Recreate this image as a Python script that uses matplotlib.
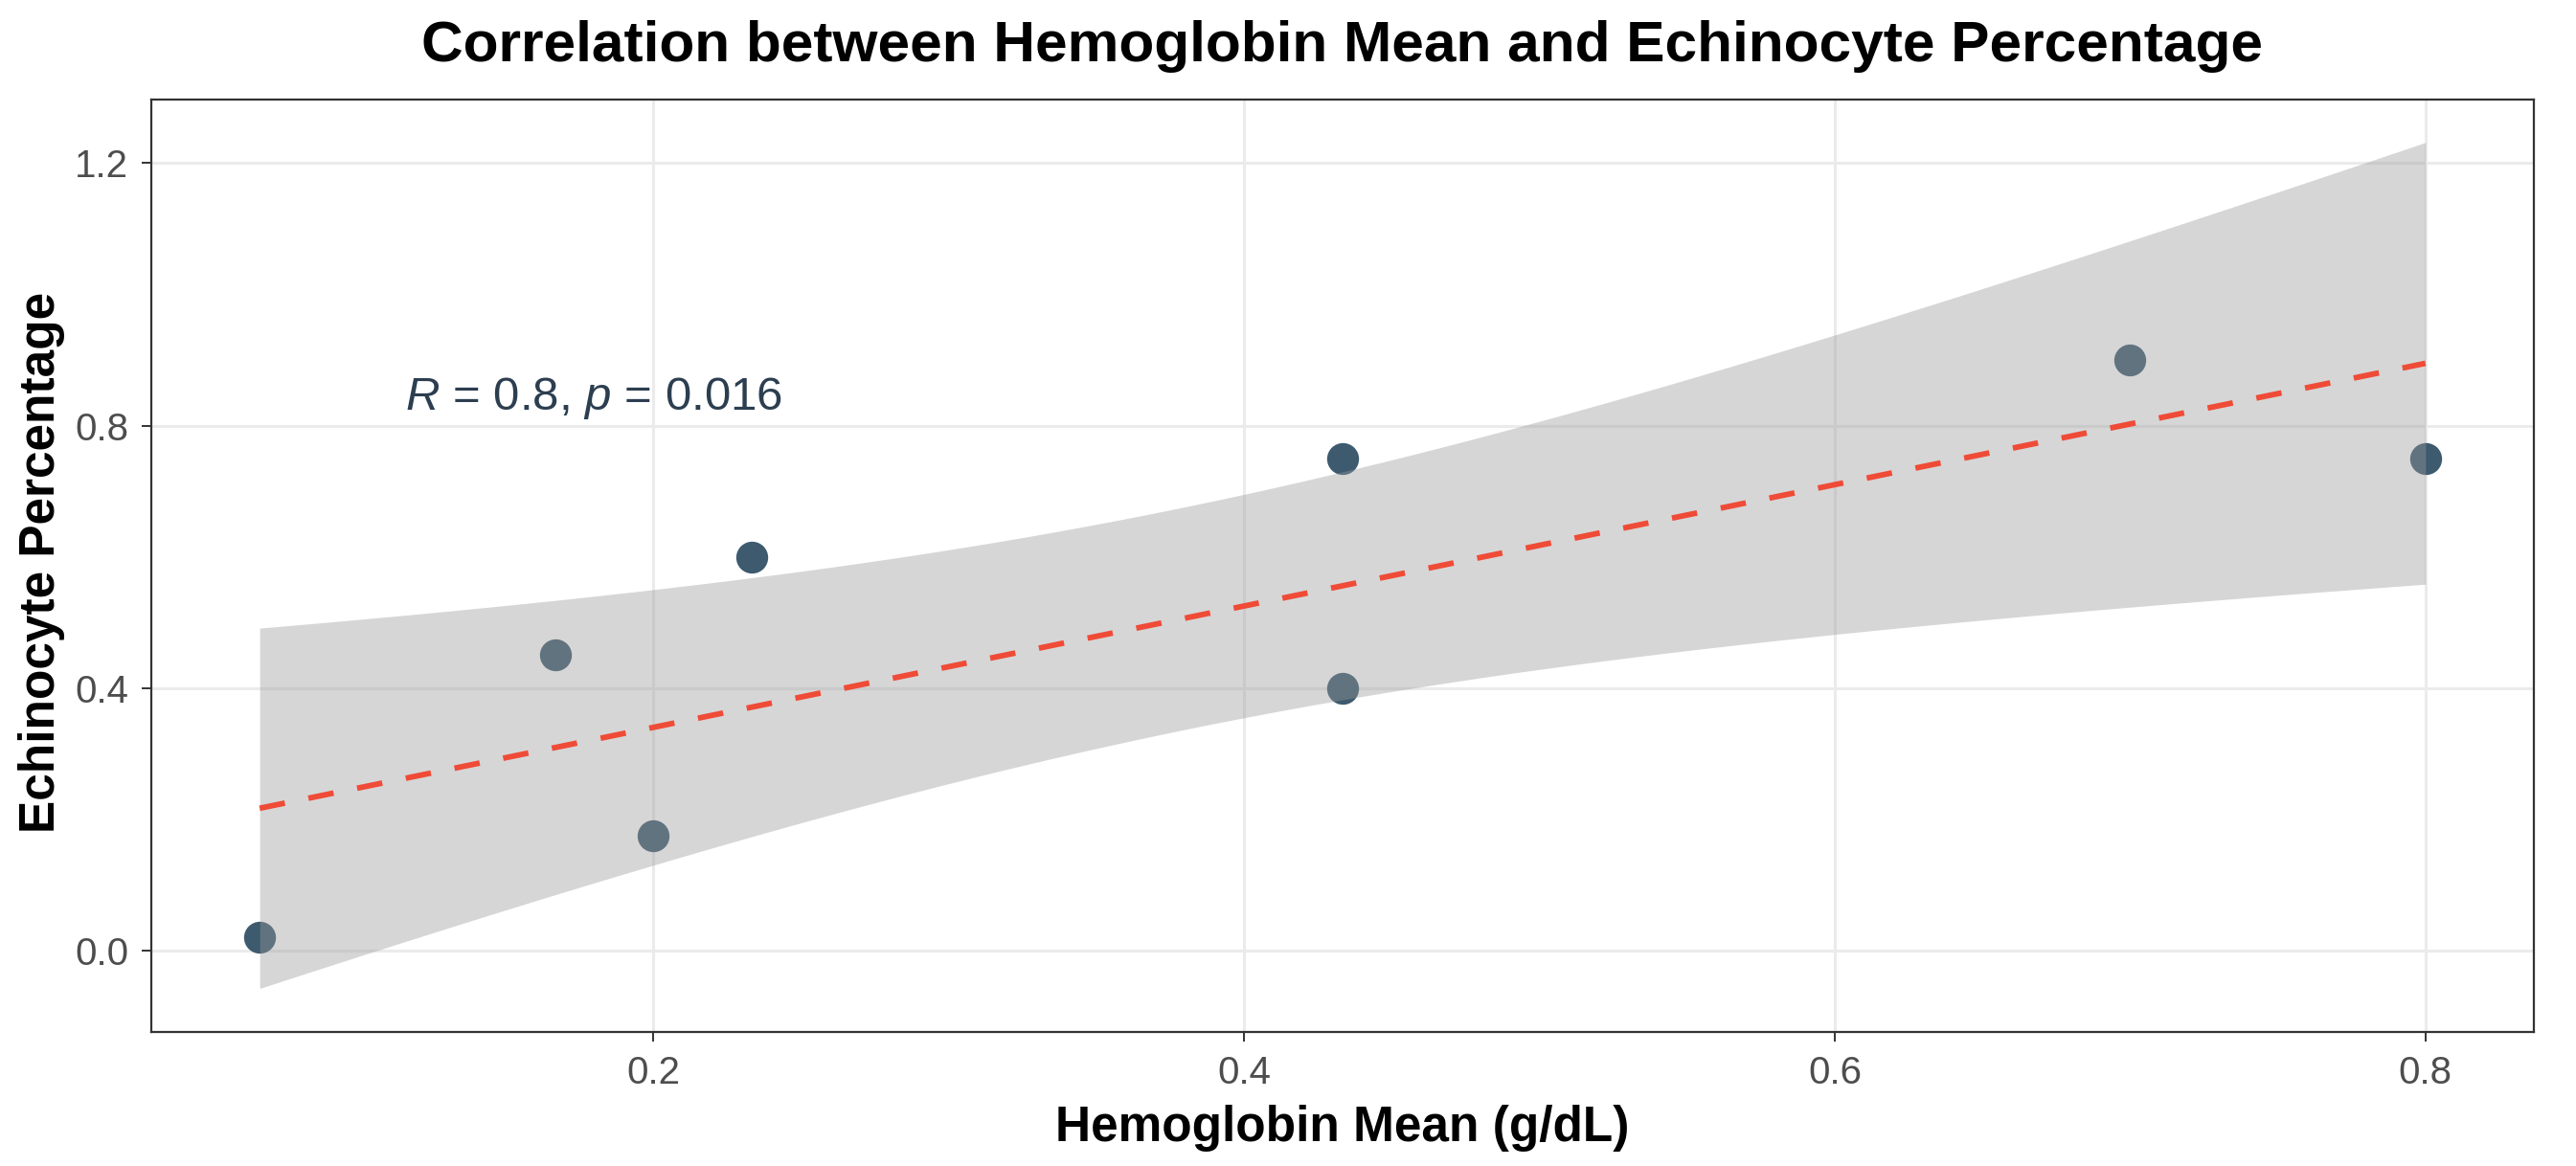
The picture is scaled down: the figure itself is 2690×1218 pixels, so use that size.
import numpy as np
import matplotlib
matplotlib.use("Agg")
import matplotlib.pyplot as plt

plt.rcParams['font.family'] = ['Liberation Sans', 'DejaVu Sans']
plt.rcParams['mathtext.fontset'] = 'custom'
plt.rcParams['mathtext.rm'] = 'Liberation Sans'
plt.rcParams['mathtext.it'] = 'Liberation Sans:italic'

# data
hb_mean = [0.0667, 0.1667, 0.2, 0.2333, 0.4333, 0.4333, 0.7, 0.8]
echino_pct = [0.02, 0.45, 0.175, 0.6, 0.75, 0.4, 0.9, 0.75]
x_ticks = [0.2, 0.4, 0.6, 0.8]
y_ticks = [0.0, 0.4, 0.8, 1.2]
cor_label = r"$\it{R}$ = 0.8, $\it{p}$ = 0.016"

point_color = "#3d5a6e"
line_color = "#ef4b37"
text_color = "#2c3e50"

# linear fit with 95% confidence band (like geom_smooth(method = "lm"))
x = np.array(hb_mean)
y = np.array(echino_pct)
n = len(x)
slope, intercept = np.polyfit(x, y, 1)
resid = y - (intercept + slope * x)
s = np.sqrt(np.sum(resid ** 2) / (n - 2))
sxx = np.sum((x - x.mean()) ** 2)
t_crit = 2.446912  # t(0.975, df=6)
xs = np.linspace(x.min(), x.max(), 80)
fit = intercept + slope * xs
se = s * np.sqrt(1.0 / n + (xs - x.mean()) ** 2 / sxx)

W, H = 2690, 1218
fig = plt.figure(figsize=(W / 100, H / 100), dpi=100)
ax = fig.add_axes([158 / W, 1 - 1078 / H, (2646 - 158) / W, (1078 - 104) / H])

ax.scatter(x, y, s=24 ** 2, color=point_color, linewidths=0, zorder=3)
ax.fill_between(xs, fit - t_crit * se, fit + t_crit * se, color="#999999",
                alpha=0.4, linewidth=0, zorder=4)
ax.plot(xs, fit, color=line_color, linewidth=4.2, dashes=(4.6, 4.3),
        zorder=5)

ax.text(0.116, 0.8246, cor_label, fontsize=35.5, color=text_color,
        ha="left", va="baseline", zorder=6)

ax.set_xlim(0.0300, 0.8367)
ax.set_ylim(-0.1245, 1.297)
ax.set_xticks(x_ticks)
ax.set_yticks(y_ticks)
ax.set_xticklabels([f"{v:.1f}" for v in x_ticks])
ax.set_yticklabels([f"{v:.1f}" for v in y_ticks])

ax.grid(True, color="#ebebeb", linewidth=2.2, zorder=0)
ax.set_axisbelow(True)
for sp in ax.spines.values():
    sp.set_color("#333333")
    sp.set_linewidth(1.6)
ax.tick_params(axis="both", length=7.2, width=1.4, color="#333333",
               labelsize=29, labelcolor="#4d4d4d", pad=10)

ax.set_xlabel("Hemoglobin Mean (g/dL)", fontsize=37, fontweight="bold",
              va="center")
ax.xaxis.set_label_coords(0.5, -0.1035)
ax.set_ylabel("Echinocyte Percentage", fontsize=37, fontweight="bold",
              va="center", ha="center")
ax.yaxis.set_label_coords(-0.0462, 0.504)

fig.text(1402 / W, 1 - 48 / H,
         "Correlation between Hemoglobin Mean and Echinocyte Percentage",
         fontsize=43.5, fontweight="bold", ha="center", va="center")

fig.savefig("out.png", dpi=100, facecolor="white")
